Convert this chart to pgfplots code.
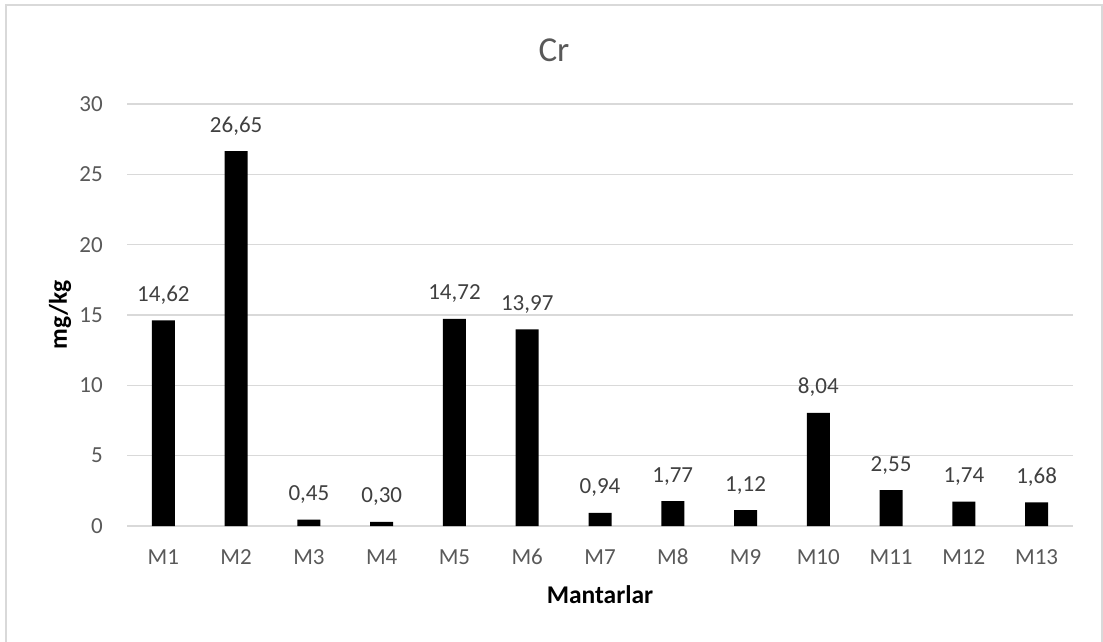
\documentclass[border=0pt]{standalone}
\usepackage{fontspec}
\setmainfont{Carlito}
\usepackage{pgfplots}
\pgfplotsset{compat=1.18}
\definecolor{gridgray}{RGB}{217,217,217}
\definecolor{tickgray}{RGB}{89,89,89}
\definecolor{valgray}{RGB}{64,64,64}
\begin{document}
\begin{tikzpicture}[x=1pt,y=1pt]
\path[use as bounding box] (0,0) rectangle (1103,641);
% chart frame
\draw[gridgray, line width=1.3pt] (6,-2) rectangle (1102,636);
\begin{axis}[
  at={(127pt,115pt)}, anchor=south west,
  scale only axis, width=946pt, height=422pt,
  xmin=0.5, xmax=13.5, ymin=0, ymax=30,
  xtick={1,...,13},
  xticklabels={M1,M2,M3,M4,M5,M6,M7,M8,M9,M10,M11,M12,M13},
  ytick={0,5,...,30},
  ymajorgrids, grid style={gridgray, line width=1.3pt},
  axis line style={draw=none},
  major tick length=0pt,
  /pgf/number format/assume math mode=true,
  tick label style={font=\fontsize{23}{27}\selectfont, text=tickgray, inner sep=0pt},
  yticklabel style={anchor=east, xshift=-24pt},
  xticklabel style={anchor=base, yshift=-38pt},
  xlabel={Mantarlar}, ylabel={mg/kg},
  label style={font=\fontsize{25.5}{30}\selectfont\bfseries, text=black, inner sep=0pt},
  xlabel style={at={([yshift=-77pt]axis description cs:0.5,0)}, anchor=base},
  ylabel style={at={([xshift=-67pt]axis description cs:0,0.5)}, anchor=center, rotate=0},
  clip=false,
]
\addplot[ybar, bar width=23pt, fill=black, draw=none,
  nodes near coords={\pgfmathprintnumber[fixed, fixed zerofill, precision=2, use comma]{\pgfplotspointmeta}},
  nodes near coords style={font=\fontsize{23}{27}\selectfont, text=valgray, anchor=base, yshift=19pt, inner sep=0pt},
] coordinates {
  (1,14.62) (2,26.65) (3,0.45) (4,0.30) (5,14.72) (6,13.97) (7,0.94)
  (8,1.77) (9,1.12) (10,8.04) (11,2.55) (12,1.74) (13,1.68)
};
\end{axis}
\node[text=tickgray, font=\fontsize{35}{40}\selectfont, anchor=base, inner sep=0pt] at (554,579) {Cr};
\end{tikzpicture}
\end{document}
